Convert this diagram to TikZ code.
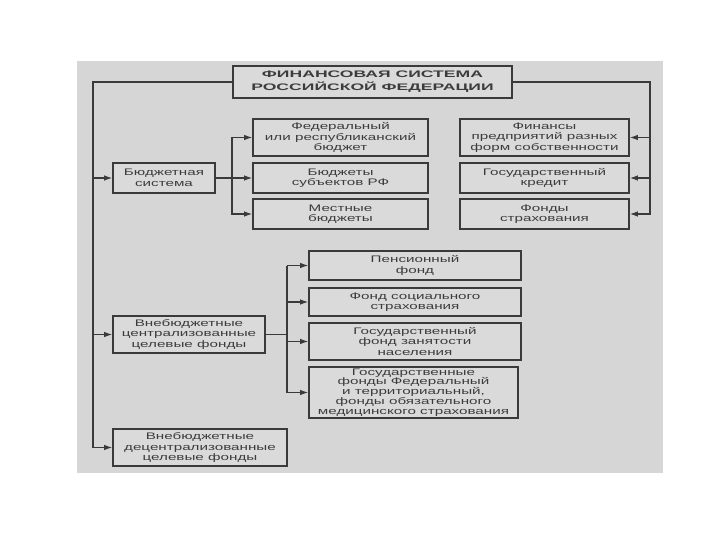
\documentclass[tikz,border=0pt]{standalone}
\usepackage{fontspec}
\usetikzlibrary{arrows.meta}
\newfontfamily\bodyfont[FakeStretch=1.6]{Liberation Sans}
\newfontfamily\titlefont[FakeStretch=1.85]{Liberation Sans}
\definecolor{bgc}{RGB}{214,214,214}
\definecolor{boxfill}{RGB}{218,218,218}
\definecolor{linec}{RGB}{58,58,58}
\definecolor{textc}{RGB}{60,60,60}
\tikzset{
  fbox/.style={draw=linec, line width=1.7pt, fill=boxfill, align=center, inner sep=0pt,
    text=textc, font=\bodyfont\fontsize{9.5}{10.5}\selectfont},
  conn/.style={draw=linec, line width=1.1pt},
  arr/.style={conn, -{Latex[length=8pt,width=5.5pt]}},
}
\begin{document}
\begin{tikzpicture}[x=1pt, y=-1pt]
\useasboundingbox (0,0) rectangle (720,540);
\fill[white] (0,0) rectangle (720,540);
\fill[bgc] (77,61) rectangle (663,473);

% title
\node[fbox, minimum width=279pt, minimum height=32pt,
  font=\titlefont\bfseries\fontsize{9.5}{13}\selectfont] (title) at (372.5,82)
  {ФИНАНСОВАЯ СИСТЕМА\\РОССИЙСКОЙ ФЕДЕРАЦИИ};

% budget system
\node[fbox, minimum width=102pt, minimum height=30pt] (bs) at (164,178) {Бюджетная\\система};
\node[fbox, minimum width=175pt, minimum height=37pt] (fed) at (340.5,137.5) {Федеральный\\или республиканский\\бюджет};
\node[fbox, minimum width=175pt, minimum height=30pt] (subj) at (340.5,178) {Бюджеты\\субъектов РФ};
\node[fbox, minimum width=175pt, minimum height=30pt] (mest) at (340.5,214) {Местные\\бюджеты};

% right column
\node[fbox, minimum width=169pt, minimum height=37pt] (fin) at (544.5,137.5) {Финансы\\предприятий разных\\форм собственности};
\node[fbox, minimum width=169pt, minimum height=30pt] (cred) at (544.5,178) {Государственный\\кредит};
\node[fbox, minimum width=169pt, minimum height=30pt] (strah) at (544.5,214) {Фонды\\страхования};

% centralized funds
\node[fbox, minimum width=152pt, minimum height=37pt] (vcf) at (189,334.5) {Внебюджетные\\централизованные\\целевые фонды};
\node[fbox, minimum width=212pt, minimum height=29pt] (pens) at (415,265.5) {Пенсионный\\фонд};
\node[fbox, minimum width=212pt, minimum height=28pt] (soc) at (415,302) {Фонд социального\\страхования};
\node[fbox, minimum width=212pt, minimum height=37pt] (zan) at (415,341.5) {Государственный\\фонд занятости\\населения};
\node[fbox, minimum width=209pt, minimum height=51pt,
  font=\bodyfont\fontsize{9.5}{9.8}\selectfont] (med) at (413.5,392.5) {Государственные\\фонды Федеральный\\и территориальный,\\фонды обязательного\\медицинского страхования};

% decentralized funds
\node[fbox, minimum width=174pt, minimum height=37pt] (vdf) at (200,447.5) {Внебюджетные\\децентрализованные\\целевые фонды};

% trunk lines
\coordinate (L) at (93,0);
\coordinate (R) at (650,0);
\coordinate (B) at (232,0);
\coordinate (C) at (287,0);

\draw[arr] (title.west) -| (L |- vdf.west) -- (vdf.west);
\draw[arr] (L |- bs.west) -- (bs.west);
\draw[arr] (L |- vcf.west) -- (vcf.west);

\draw[arr] (title.east) -| (R |- strah.east) -- (strah.east);
\draw[arr] (R |- fin.east) -- (fin.east);
\draw[arr] (R |- cred.east) -- (cred.east);

\draw[arr] (bs.east) -- (subj.west);
\draw[arr] (B |- fed.west) -- (fed.west);
\draw[arr] (B |- fed.west) |- (mest.west);

\draw[conn] (vcf.east) -- (C |- vcf.east);
\draw[arr] (C |- pens.west) -- (pens.west);
\draw[arr] (C |- pens.west) |- (med.west);
\draw[arr] (C |- soc.west) -- (soc.west);
\draw[arr] (C |- zan.west) -- (zan.west);
\end{tikzpicture}
\end{document}
